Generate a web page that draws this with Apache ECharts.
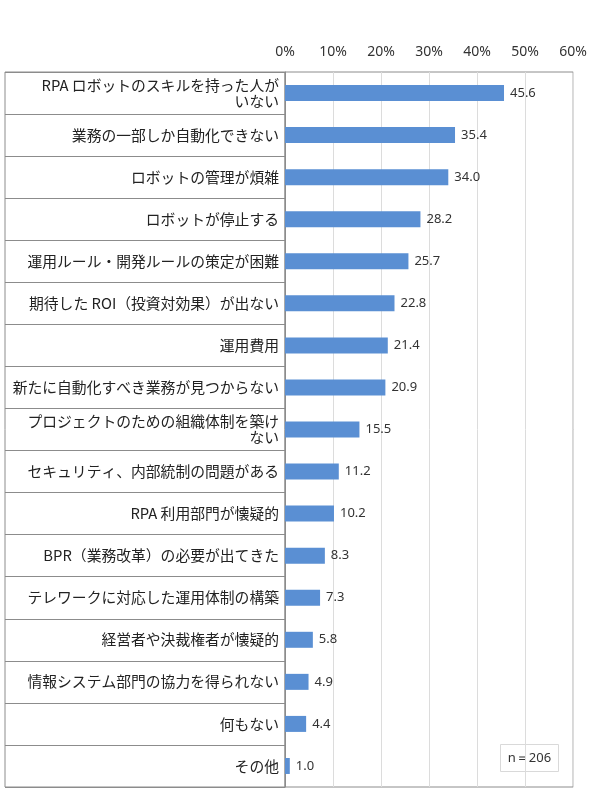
<!DOCTYPE html>
<html>
<head>
<meta charset="utf-8">
<script src="https://cdn.jsdelivr.net/npm/echarts@6/dist/echarts.min.js"></script>
<style>
html,body{margin:0;padding:0;background:#fff;}
#chart{width:590px;height:797px;}
</style>
</head>
<body>
<div id="chart"></div>
<script>
const categories = [
  'RPA ロボットのスキルを持った人が\nいない',
  '業務の一部しか自動化できない',
  'ロボットの管理が煩雑',
  'ロボットが停止する',
  '運用ルール・開発ルールの策定が困難',
  '期待した ROI（投資対効果）が出ない',
  '運用費用',
  '新たに自動化すべき業務が見つからない',
  'プロジェクトのための組織体制を築け\nない',
  'セキュリティ、内部統制の問題がある',
  'RPA 利用部門が懐疑的',
  'BPR（業務改革）の必要が出てきた',
  'テレワークに対応した運用体制の構築',
  '経営者や決裁権者が懐疑的',
  '情報システム部門の協力を得られない',
  '何もない',
  'その他'
];
const values = [45.6, 35.4, 34.0, 28.2, 25.7, 22.8, 21.4, 20.9, 15.5, 11.2, 10.2, 8.3, 7.3, 5.8, 4.9, 4.4, 1.0];
const axisMin = 0, axisMax = 60, axisStep = 10;
const noteText = 'n＝206';

const chart = echarts.init(document.getElementById('chart'));
chart.setOption({
  animation: false,
  backgroundColor: '#fff',
  grid: [
    {left: 285, right: 14, top: 72, bottom: 10, show: true, borderColor: '#8c8c8c', borderWidth: 1, containLabel: false},
    {left: 5, width: 280, top: 72, bottom: 10, show: true, borderColor: '#8c8c8c', borderWidth: 1, containLabel: false}
  ],
  xAxis: [
    {
      gridIndex: 0, type: 'value', position: 'top', min: axisMin, max: axisMax, interval: axisStep,
      axisLine: {show: false}, axisTick: {show: false},
      axisLabel: {formatter: '{value}%', color: '#333', fontSize: 14, fontFamily: 'Noto Sans', margin: 13},
      splitLine: {show: true, lineStyle: {color: '#dcdcdc', width: 1}}
    },
    {gridIndex: 1, type: 'value', show: false, min: 0, max: 1}
  ],
  yAxis: [
    {
      gridIndex: 0, type: 'category', inverse: true, data: categories,
      axisLine: {show: true, lineStyle: {color: '#8c8c8c'}},
      axisTick: {show: true, length: 3, lineStyle: {color: '#8c8c8c'}},
      axisLabel: {color: '#222', fontSize: 14.8, fontFamily: 'Noto Sans CJK JP', margin: 6, lineHeight: 16, align: 'right'},
      splitLine: {show: false}
    },
    {
      gridIndex: 1, type: 'category', inverse: true, data: categories,
      axisLine: {show: false}, axisTick: {show: false}, axisLabel: {show: false},
      splitLine: {show: true, lineStyle: {color: '#8c8c8c', width: 1}}
    }
  ],
  series: [{
    type: 'bar', xAxisIndex: 0, yAxisIndex: 0, data: values, barWidth: 16,
    itemStyle: {color: '#5a8fd3'},
    label: {show: true, position: 'right', distance: 6, color: '#333', fontSize: 13, fontFamily: 'Noto Sans',
      formatter: p => p.value.toFixed(1)}
  }],
  graphic: [{
    type: 'group', left: 500, top: 744,
    children: [
      {type: 'rect', shape: {x: 0, y: 0, width: 58, height: 27}, style: {fill: '#fff', stroke: '#d9d9d9', lineWidth: 1}},
      {type: 'text', x: 29, y: 13.5, style: {text: noteText, fill: '#333', fontSize: 13, fontFamily: 'Noto Sans', align: 'center', verticalAlign: 'middle'}}
    ]
  }]
});
</script>
</body>
</html>
